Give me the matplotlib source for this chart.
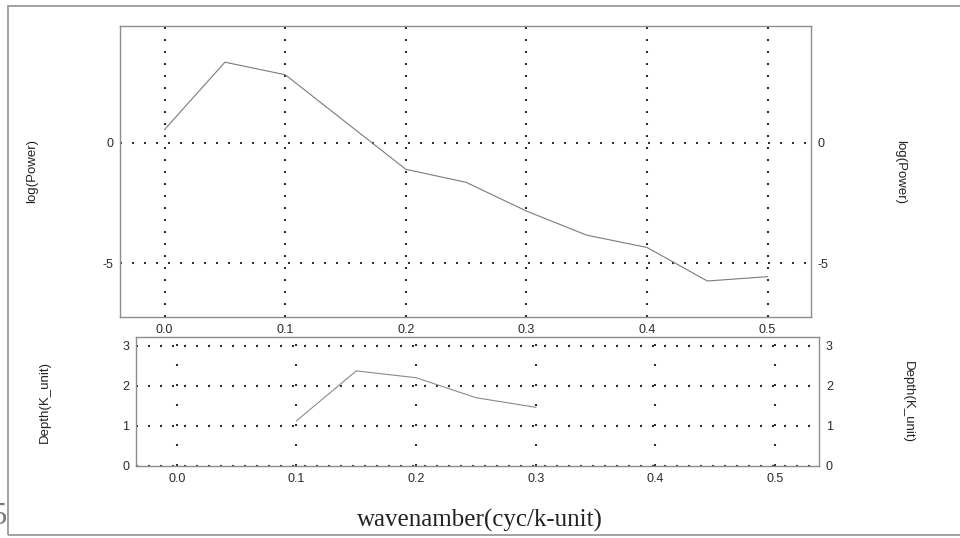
import matplotlib.pyplot as plt
from matplotlib.patches import Rectangle

plt.rcParams['font.family'] = ['Liberation Sans', 'DejaVu Sans']
plt.rcParams['lines.scale_dashes'] = False
plt.rcParams['axes.unicode_minus'] = False

# power spectrum (top panel)
wave_power = [0.0, 0.05, 0.1, 0.15, 0.2, 0.25, 0.3, 0.35, 0.4, 0.45, 0.5]
log_power = [0.55, 3.34, 2.82, 0.86, -1.10, -1.64, -2.83, -3.83, -4.34, -5.73, -5.55]

# depth estimate (bottom panel)
wave_depth = [0.1, 0.15, 0.2, 0.25, 0.3]
depth = [1.12, 2.37, 2.2, 1.7, 1.46]

x_ticks = [0.0, 0.1, 0.2, 0.3, 0.4, 0.5]
power_ticks = [0, -5]
depth_ticks = [0, 1, 2, 3]

W, H = 960, 538
fig = plt.figure(figsize=(9.6, 5.38), dpi=100)

# outer frame of the picture
fig.add_artist(Rectangle((8 / W, 3 / H), 1.0, 529 / H, transform=fig.transFigure,
                         fill=False, edgecolor='#9a9a9a', linewidth=1.3))

dot_12 = (0, (1.4, 7.24))   # dots every ~12 px
dot_20 = (0, (1.4, 13.0))   # dots every ~20 px
lab_kw = dict(fontsize=9.5, color='#222222', ha='center', va='center')

# top panel
ax1 = fig.add_axes([120 / W, (H - 316.7) / H, 691 / W, 290.7 / H])
ax1.plot(wave_power, log_power, color='#7a7a7a', linewidth=0.8)
ax1.set_xlim(-0.037, 0.536)
ax1.set_ylim(-7.21, 4.84)
ax1.set_xticks(x_ticks)
ax1.set_xticklabels([f'{v:.1f}' for v in x_ticks])
ax1.set_yticks(power_ticks)
ax1.grid(True, color='#2a2a2a', linestyle=dot_12, linewidth=1.5,
         dash_capstyle='butt')
fig.text(32 / W, (H - 171) / H, 'log(Power)', rotation=90, **lab_kw)
fig.text(900 / W, (H - 172) / H, 'log(Power)', rotation=270, **lab_kw)

# bottom panel
ax2 = fig.add_axes([136 / W, (H - 465.7) / H, 683 / W, 128.4 / H])
ax2.plot(wave_depth, depth, color='#8a8a8a', linewidth=0.8)
ax2.set_xlim(-0.034, 0.5366)
ax2.set_ylim(0, 3.21)
ax2.set_xticks(x_ticks)
ax2.set_xticklabels([f'{v:.1f}' for v in x_ticks])
ax2.set_yticks(depth_ticks)
ax2.xaxis.grid(True, color='#2a2a2a', linestyle=dot_20, linewidth=1.5,
               dash_capstyle='butt')
ax2.yaxis.grid(True, color='#2a2a2a', linestyle=dot_12, linewidth=1.5,
               dash_capstyle='butt')
fig.text(45 / W, (H - 402) / H, 'Depth(K_unit)', rotation=90, **lab_kw)
fig.text(908 / W, (H - 402) / H, 'Depth(K_unit)', rotation=270, **lab_kw)

for ax in (ax1, ax2):
    ax.set_axisbelow(True)
    ax.tick_params(length=0, labelsize=9, colors='#2a2a2a', pad=5,
                   labelleft=True, labelright=True)
    for s in ax.spines.values():
        s.set_color('#8c8c8c')
        s.set_linewidth(1.0)

fig.text(0.5, (H - 520) / H, 'wavenamber(cyc/k-unit)', ha='center', va='center',
         fontsize=18, family=['Liberation Serif', 'DejaVu Serif'], color='#222222')
# clipped glyph at the lower left edge of the scan
fig.text(-1 / W, (H - 516) / H, '5', ha='center', va='center', fontsize=22,
         family=['Liberation Serif', 'DejaVu Serif'], color='#777777')

fig.savefig('out.png', dpi=100)
